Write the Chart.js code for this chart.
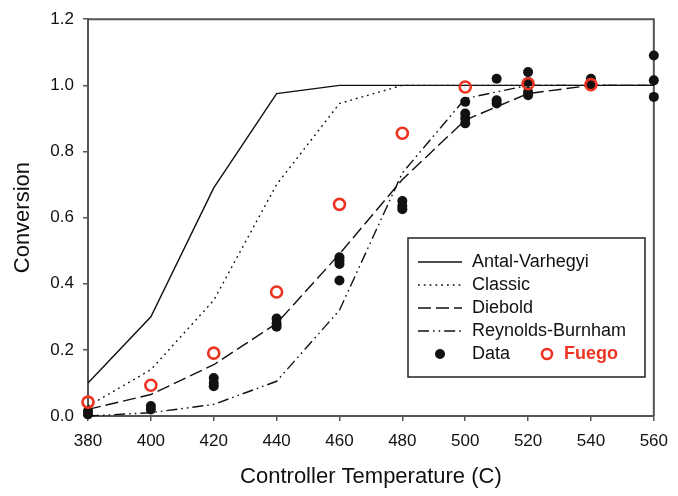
<!DOCTYPE html>
<html>
<head>
<meta charset="utf-8">
<script src="https://cdn.jsdelivr.net/npm/chart.js@4/dist/chart.umd.min.js"></script>
<style>
  html, body { margin: 0; padding: 0; background: #fff; }
  canvas { display: block; }
</style>
</head>
<body>
<canvas id="c" width="678" height="496"></canvas>
<script>
// ---- data ----
const temps = [380, 400, 420, 440, 460, 480, 500, 520, 540, 560];
const antalVarhegyi = [0.10, 0.30, 0.69, 0.975, 1.0, 1.0, 1.0, 1.0, 1.0, 1.0];
const classic = [0.03, 0.14, 0.35, 0.70, 0.945, 1.0, 1.0, 1.0, 1.0, 1.0];
const diebold = [0.02, 0.065, 0.155, 0.28, 0.49, 0.715, 0.895, 0.975, 1.0, 1.0];
const reynoldsBurnham = [0.0, 0.01, 0.035, 0.105, 0.32, 0.735, 0.96, 1.0, 1.0, 1.0];

const dataTemps = [380, 380, 400, 400, 420, 420, 420, 440, 440, 440, 460, 460, 460, 460,
                   480, 480, 480, 500, 500, 500, 500, 510, 510, 510, 520, 520, 520, 520,
                   540, 540, 540, 560, 560, 560];
const dataConv  = [0.005, 0.015, 0.02, 0.03, 0.09, 0.10, 0.115, 0.27, 0.28, 0.295, 0.41, 0.46, 0.47, 0.48,
                   0.625, 0.635, 0.65, 0.885, 0.90, 0.915, 0.95, 0.945, 0.955, 1.02, 0.97, 0.98, 1.01, 1.04,
                   1.0, 1.01, 1.02, 0.965, 1.015, 1.09];

const fuegoTemps = [380, 400, 420, 440, 460, 480, 500, 520, 540];
const fuegoConv  = [0.042, 0.093, 0.19, 0.375, 0.64, 0.855, 0.995, 1.005, 1.002];

const xTickValues = [380, 400, 420, 440, 460, 480, 500, 520, 540, 560];
const yTickValues = [0.0, 0.2, 0.4, 0.6, 0.8, 1.0, 1.2];

const seriesNames = ['Antal-Varhegyi', 'Classic', 'Diebold', 'Reynolds-Burnham', 'Data', 'Fuego'];

// ---- styles ----
const INK = '#111';
const RED = '#ee3322';
const FONT = "'Liberation Sans', Arial, Helvetica, sans-serif";
const dashes = {
  'Antal-Varhegyi': [],
  'Classic': [1.8, 4],
  'Diebold': [13, 5],
  'Reynolds-Burnham': [11, 4, 1.6, 4, 1.6, 4]
};

const pts = (xs, ys) => xs.map((x, i) => ({x: x, y: ys[i]}));

function lineDs(label, ys) {
  return {
    type: 'line', label: label, data: pts(temps, ys),
    borderColor: INK, borderWidth: 1.4, borderDash: dashes[label],
    pointRadius: 0, tension: 0, fill: false, clip: false
  };
}

const bgPlugin = {
  id: 'bg',
  beforeDraw(chart) {
    const ctx = chart.ctx;
    ctx.save(); ctx.fillStyle = '#fff'; ctx.fillRect(0, 0, chart.width, chart.height); ctx.restore();
  }
};

const framePlugin = {
  id: 'frame',
  beforeDatasetsDraw(chart) {
    const {ctx, chartArea: a} = chart;
    ctx.save();
    ctx.strokeStyle = '#555'; ctx.lineWidth = 2;
    ctx.beginPath();
    ctx.moveTo(a.left, a.top); ctx.lineTo(a.right, a.top); ctx.lineTo(a.right, a.bottom);
    ctx.stroke();
    ctx.restore();
  },
  afterDraw(chart) {
    // legend box
    const ctx = chart.ctx;
    const bx = 408, by = 238, bw = 237, bh = 139;
    ctx.save();
    ctx.fillStyle = '#fff';
    ctx.fillRect(bx, by, bw, bh);
    ctx.strokeStyle = '#222'; ctx.lineWidth = 1.5;
    ctx.strokeRect(bx, by, bw, bh);
    ctx.font = '18px ' + FONT;
    ctx.textBaseline = 'middle';
    ctx.textAlign = 'left';
    const rows = [262, 285, 308, 331, 354];
    for (let i = 0; i < 4; i++) {
      const name = seriesNames[i];
      ctx.strokeStyle = INK; ctx.lineWidth = 1.4;
      ctx.setLineDash(dashes[name]);
      ctx.beginPath(); ctx.moveTo(418, rows[i]); ctx.lineTo(462, rows[i]); ctx.stroke();
      ctx.setLineDash([]);
      ctx.fillStyle = INK;
      ctx.fillText(name, 472, rows[i]);
    }
    // Data marker
    ctx.fillStyle = INK;
    ctx.beginPath(); ctx.arc(440, rows[4], 5, 0, Math.PI * 2); ctx.fill();
    ctx.fillText(seriesNames[4], 472, rows[4]);
    // Fuego marker
    ctx.strokeStyle = RED; ctx.lineWidth = 2.6;
    ctx.beginPath(); ctx.arc(547, rows[4], 5, 0, Math.PI * 2); ctx.stroke();
    ctx.fillStyle = RED;
    ctx.font = 'bold 18px ' + FONT;
    ctx.fillText(seriesNames[5], 564, rows[4]);
    ctx.restore();
  }
};

Chart.defaults.font.family = FONT;
Chart.defaults.color = INK;

new Chart(document.getElementById('c'), {
  type: 'scatter',
  data: {
    datasets: [
      {
        label: seriesNames[5], data: pts(fuegoTemps, fuegoConv), showLine: false, clip: false,
        pointStyle: 'circle', pointRadius: 5.5, pointBorderWidth: 2.6,
        pointBorderColor: RED, pointBackgroundColor: 'rgba(0,0,0,0)'
      },
      {
        label: seriesNames[4], data: pts(dataTemps, dataConv), showLine: false, clip: false,
        pointStyle: 'circle', pointRadius: 5, pointBorderWidth: 0,
        pointBackgroundColor: INK, pointBorderColor: INK
      },
      lineDs(seriesNames[0], antalVarhegyi),
      lineDs(seriesNames[1], classic),
      lineDs(seriesNames[2], diebold),
      lineDs(seriesNames[3], reynoldsBurnham)
    ]
  },
  options: {
    responsive: false,
    devicePixelRatio: 1,
    animation: false,
    layout: { padding: { left: 0, top: 15, right: 19, bottom: 0 } },
    plugins: { legend: { display: false }, tooltip: { enabled: false } },
    scales: {
      x: {
        type: 'linear', min: 380, max: 560,
        afterFit(s) { s.height = 80; },
        afterBuildTicks(s) { s.ticks = xTickValues.map(v => ({value: v})); },
        ticks: { font: { size: 17 }, color: INK, padding: 10, maxRotation: 0 },
        grid: { drawOnChartArea: false, tickLength: 5, color: '#555', lineWidth: 1.5 },
        border: { color: '#555', width: 2 },
        title: { display: true, text: 'Controller Temperature (C)', font: { size: 22 }, color: INK, padding: { top: 10, bottom: 6 } }
      },
      y: {
        type: 'linear', min: 0, max: 1.2,
        afterFit(s) { s.width = 88; },
        afterBuildTicks(s) { s.ticks = yTickValues.map(v => ({value: v})); },
        ticks: { font: { size: 17 }, color: INK, padding: 9, callback: v => Number(v).toFixed(1) },
        grid: { drawOnChartArea: false, tickLength: 5, color: '#555', lineWidth: 1.5 },
        border: { color: '#555', width: 2 },
        title: { display: true, text: 'Conversion', font: { size: 22 }, color: INK, padding: { top: 10, bottom: 0 } }
      }
    }
  },
  plugins: [bgPlugin, framePlugin]
});
</script>
</body>
</html>
